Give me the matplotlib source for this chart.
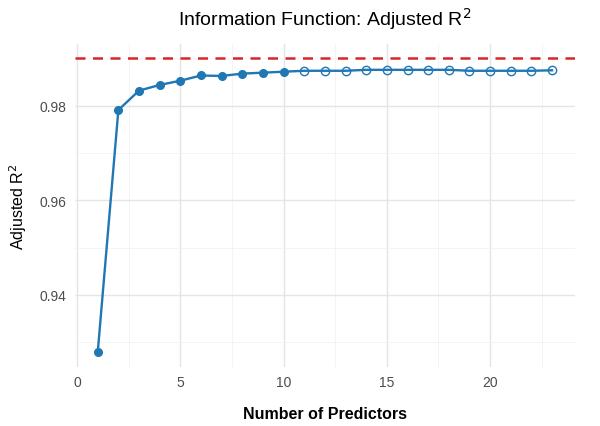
import numpy as np
import matplotlib
matplotlib.use("Agg")
import matplotlib.pyplot as plt

plt.rcParams['font.family'] = ['Liberation Sans', 'DejaVu Sans']

# number of predictors and adjusted R^2
n_pred = [1, 2, 3, 4, 5, 6, 7, 8, 9, 10, 11, 12, 13, 14, 15, 16, 17, 18, 19, 20, 21, 22, 23]
adj_r2 = [0.9278, 0.9791, 0.9832, 0.9844, 0.9853, 0.9864, 0.9863, 0.9868, 0.9870, 0.9872,
          0.9874, 0.9874, 0.9874, 0.9876, 0.9876, 0.9876, 0.9876, 0.9876, 0.9874, 0.9874,
          0.9874, 0.9874, 0.9875]
n_filled = 10          # points drawn filled (the rest are open)
threshold = 0.99       # red dashed reference line

blue = '#1f77b4'
red = '#d62728'

fig = plt.figure(figsize=(6, 4.27), dpi=100)
ax = fig.add_axes([0.125, 0.138, 0.833, 0.757])

ax.plot(n_pred, adj_r2, color=blue, linewidth=1.7, zorder=3)
ax.plot(n_pred[:n_filled], adj_r2[:n_filled], 'o', color=blue, markersize=5.5, zorder=4)
ax.plot(n_pred[n_filled:], adj_r2[n_filled:], 'o', markerfacecolor='none',
        markeredgecolor=blue, markeredgewidth=1.0, markersize=6, zorder=4)
ax.axhline(threshold, color=red, linestyle=(0, (4, 3)), linewidth=1.8, zorder=2)

ax.set_xlim(-0.1, 24.1)
ax.set_ylim(0.9247, 0.9931)
ax.set_xticks([0, 5, 10, 15, 20])
ax.set_xticks([2.5, 7.5, 12.5, 17.5, 22.5], minor=True)
ax.set_yticks([0.94, 0.96, 0.98])
ax.set_yticks([0.93, 0.95, 0.97, 0.99], minor=True)
ax.set_yticklabels(['0.94', '0.96', '0.98'])

ax.grid(which='major', color='#e5e5e5', linewidth=1.0)
ax.grid(which='minor', color='#f2f2f2', linewidth=0.6)
ax.set_axisbelow(True)
for s in ax.spines.values():
    s.set_visible(False)
ax.tick_params(which='both', length=0, labelsize=10, colors='#4d4d4d', pad=6)

ax.set_title('Information Function: Adjusted R$^2$', fontsize=14, pad=14)
ax.set_xlabel('Number of Predictors', fontsize=11.5, fontweight='bold', labelpad=12)
ax.set_ylabel('Adjusted R$^2$', fontsize=11.5, labelpad=8)

fig.savefig('out.png', dpi=100)
